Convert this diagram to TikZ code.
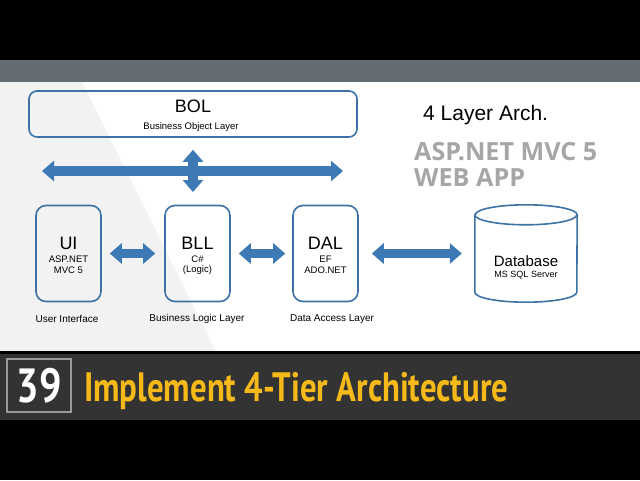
\documentclass[tikz,border=0pt]{standalone}
\usepackage{fontspec}
\usepackage{graphicx}
\setmainfont{Liberation Sans}
\newfontfamily\ptfont{PT Sans}
\newfontfamily\osfont{Open Sans}
\usetikzlibrary{arrows.meta}
\definecolor{boxblue}{HTML}{3C72A4}
\definecolor{arrblue}{HTML}{3D7AB5}
\definecolor{topgray}{HTML}{646E72}
\definecolor{lightbg}{HTML}{F2F2F2}
\definecolor{darkbar}{HTML}{333333}
\definecolor{ybar}{HTML}{F0B52A}
\definecolor{ytext}{HTML}{F5B91A}
\definecolor{graytxt}{HTML}{A6A6A6}
\newcommand\fs[1]{\fontsize{#1}{#1}\selectfont}
\tikzset{
  box/.style={draw=boxblue, line width=1.6pt, rounded corners=10pt, inner sep=0pt},
  fat/.style={draw=arrblue, line width=9.5pt, {Triangle[width=20pt,length=12pt]}-{Triangle[width=20pt,length=12pt]}},
  txt/.style={inner sep=0pt, text=black},
}
\begin{document}
\begin{tikzpicture}[x=1pt,y=-1pt]
\useasboundingbox (0,0) rectangle (640,480);
% backgrounds
\fill[black] (0,0) rectangle (640,60);
\fill[topgray] (0,60) rectangle (640,82);
\fill[white] (0,82) rectangle (640,352);
\fill[lightbg] (0,82) -- (82,82) -- (216,352) -- (0,352) -- cycle;
\fill[ybar] (0,351) rectangle (640,354);
\fill[darkbar] (0,354) rectangle (640,420);
\fill[black] (0,420) rectangle (640,480);

% BOL
\node[box, rounded corners=8pt, minimum width=328pt, minimum height=46pt] (bol) at (193,114) {};
\node[txt] (bolt) at (193,106) {\fs{18}BOL};
\node[txt] (bols) at (191,127) {\fs{9.5}Business Object Layer};

% layer boxes
\node[box, minimum width=65pt, minimum height=96pt] (ui) at (68.5,253.5) {};
\node[box, minimum width=65pt, minimum height=96pt] (bll) at (197.5,253.5) {};
\node[box, minimum width=65pt, minimum height=96pt] (dal) at (325.5,253.5) {};

\node[txt] (uit) at (68.5,243) {\fs{18}UI};
\node[txt] (uis1) at (68.5,259) {\fs{9.5}ASP.NET};
\node[txt] (uis2) at (68.5,270) {\fs{9.5}MVC 5};
\node[txt] (bllt) at (197.5,243) {\fs{18}BLL};
\node[txt] (blls1) at (197.5,259) {\fs{9.5}C\#};
\node[txt] (blls2) at (197.5,270) {\fs{9.5}(Logic)};
\node[txt] (dalt) at (325.5,243) {\fs{18}DAL};
\node[txt] (dals1) at (325.5,259) {\fs{9.5}EF};
\node[txt] (dals2) at (325.5,270) {\fs{9.5}ADO.NET};

\node[txt] (uil) at (67,319) {\fs{10}User Interface};
\node[txt] (blll) at (197,319) {\fs{10}Business Logic Layer};
\node[txt] (dall) at (332,319) {\fs{10}Data Access Layer};

% database
\node[inner sep=0pt, minimum width=102pt, minimum height=97pt] (db) at (526,253.5) {};
\draw[boxblue, line width=1.6pt, fill=white]
  ([yshift=-10pt]db.north west) -- ([yshift=10pt]db.south west)
  arc[start angle=180, end angle=360, x radius=51pt, y radius=10pt]
  -- ([yshift=-10pt]db.north east)
  arc[start angle=0, end angle=180, x radius=51pt, y radius=10pt] -- cycle;
\draw[boxblue, line width=1.6pt] ([yshift=-10pt]db.north west)
  arc[start angle=180, end angle=360, x radius=51pt, y radius=10pt];
\node[txt] (dbt) at (526,261) {\fs{15}Database};
\node[txt] (dbs) at (526,275) {\fs{9}MS SQL Server};

% arrows
\coordinate (hl) at (42,171);
\coordinate (hr) at (343,171);
\coordinate (vb) at (193,192);
\draw[fat] (hl) -- (hr);
\draw[fat, shorten <=12pt] (bol.south) -- (vb);
\draw[fat, shorten <=8pt, shorten >=9pt] (ui) -- (bll);
\draw[fat, shorten <=8pt, shorten >=7pt] (bll) -- (dal);
\draw[fat, shorten <=13pt, shorten >=13pt] (dal) -- (db);

% right texts
\node[txt, anchor=west] (arch) at (423,115) {\fs{21}4 Layer Arch.};
\node[txt, anchor=base west, text=graytxt] (asp) at (414,160) {\resizebox{183pt}{\height}{\osfont\bfseries\fs{25}ASP.NET MVC 5}};
\node[txt, anchor=base west, text=graytxt] (web) at (414,186) {\resizebox{111pt}{\height}{\osfont\bfseries\fs{25}WEB APP}};

% bottom title
\node[draw=gray!80, line width=1.4pt, fill=darkbar, minimum width=64pt, minimum height=53pt, inner sep=0pt] (num) at (39,385.5) {};
\node[txt, text=white] (numt) at (39.5,385.5) {\resizebox{45pt}{\height}{\ptfont\bfseries\fs{48}39}};
\node[txt, anchor=base west, text=ytext] (title) at (84,401) {\resizebox{424pt}{\height}{\ptfont\bfseries\fs{41}Implement 4-Tier Architecture}};
\end{tikzpicture}
\end{document}
